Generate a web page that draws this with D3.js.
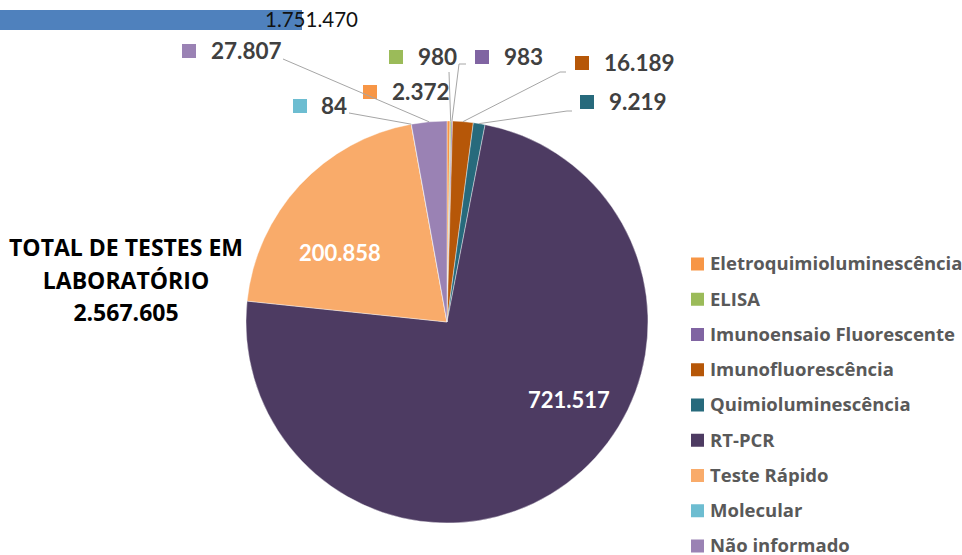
<!DOCTYPE html>
<html>
<head>
<meta charset="utf-8">
<script src="https://cdn.jsdelivr.net/npm/d3@7"></script>
<style>
  html, body { margin: 0; padding: 0; background: #fff; }
  svg { display: block; }
</style>
</head>
<body>
<svg id="chart" width="962" height="555"></svg>
<script>
// ---------------- DATA ----------------
const categories = [
  "Eletroquimioluminescência",
  "ELISA",
  "Imunoensaio Fluorescente",
  "Imunofluorescência",
  "Quimioluminescência",
  "RT-PCR",
  "Teste Rápido",
  "Molecular",
  "Não informado"
];
const values = [2372, 980, 983, 16189, 9219, 721517, 200858, 84, 27807];
const sliceColors = ["#F79646", "#9BBB59", "#8064A2", "#B65708", "#276A7C", "#4D3B62", "#F9AB6A", "#6DBDD1", "#9A82B4"];

const barCategories = ["Total"];
const barValues = [1751470];

const totalTitle = ["TOTAL DE TESTES EM", "LABORATÓRIO"];
const totalValue = [2567605];

// ---------------- LAYOUT ----------------
const W = 962, H = 555;
const cx = 447, cy = 322, R = 201;

const ptBR = d3.formatLocale({ decimal: ",", thousands: ".", grouping: [3], currency: ["R$", ""] });
const fmt = ptBR.format(",d");

const svg = d3.select("#chart");
const FONT = "Lato, 'Open Sans', sans-serif";
const FONT2 = "'Open Sans', Lato, sans-serif";

// Bar (top-left)
const xBar = d3.scaleLinear().domain([0, barValues[0]]).range([0, 302]);
const yBar = d3.scaleBand().domain(barCategories).range([10, 30]).padding(0);
svg.selectAll("rect.bar").data(barValues).join("rect")
  .attr("class", "bar")
  .attr("x", xBar(0))
  .attr("y", (d, i) => yBar(barCategories[i]))
  .attr("width", d => xBar(d) - xBar(0))
  .attr("height", yBar.bandwidth())
  .attr("fill", "#4F81BD");
svg.selectAll("text.barlabel").data(barValues).join("text")
  .attr("class", "barlabel")
  .attr("x", d => xBar(d) - 37)
  .attr("y", (d, i) => yBar(barCategories[i]) + yBar.bandwidth() / 2)
  .attr("dy", "0.35em")
  .attr("font-family", FONT)
  .attr("font-size", 20.5)
  .attr("fill", "#111")
  .text(d => fmt(d));

// Pie
const pie = d3.pie().sort(null).value(d => d).startAngle(0).endAngle(2 * Math.PI);
const arcs = pie(values);
const arc = d3.arc().innerRadius(0).outerRadius(R);

const g = svg.append("g").attr("transform", `translate(${cx},${cy})`);
g.selectAll("path").data(arcs).join("path")
  .attr("d", arc)
  .attr("fill", (d, i) => sliceColors[i])
  .attr("stroke", "#fff")
  .attr("stroke-width", 0.4);

// Inside labels (RT-PCR, Teste Rápido)
const insideLabelPos = { "RT-PCR": [569, 400], "Teste Rápido": [340, 253] };
categories.forEach((c, i) => {
  if (!insideLabelPos[c]) return;
  svg.append("text")
    .attr("x", insideLabelPos[c][0]).attr("y", insideLabelPos[c][1])
    .attr("text-anchor", "middle").attr("dy", "0.35em")
    .attr("font-family", FONT).attr("font-weight", "bold").attr("font-size", 22)
    .attr("fill", "#fff")
    .text(fmt(values[i]));
});

// Outside labels with markers and leader lines
const outsideLabelPos = {
  "Eletroquimioluminescência": { mx: 363, my: 85, tx: 392, ty: 92, line: null },
  "ELISA": { mx: 389, my: 50, tx: 418, ty: 57, line: [[449, 72]] },
  "Imunoensaio Fluorescente": { mx: 475, my: 50, tx: 504, ty: 57, line: [[466, 64], [459, 64]] },
  "Imunofluorescência": { mx: 575, my: 56, tx: 604, ty: 63, line: [[566, 72], [560, 72]] },
  "Quimioluminescência": { mx: 580, my: 95, tx: 609, ty: 102, line: [[572, 111], [567, 111]] },
  "Molecular": { mx: 293, my: 99, tx: 321, ty: 106, line: [[349, 113]] },
  "Não informado": { mx: 182, my: 44, tx: 211, ty: 51, line: [[283, 59]] }
};
categories.forEach((c, i) => {
  const p = outsideLabelPos[c];
  if (!p) return;
  const a = arcs[i];
  const mid = (a.startAngle + a.endAngle) / 2;
  const ex = cx + R * Math.sin(mid), ey = cy - R * Math.cos(mid);
  if (p.line) {
    const pts = p.line.concat([[ex, ey]]);
    svg.append("path")
      .attr("d", d3.line()(pts))
      .attr("fill", "none").attr("stroke", "#A6A6A6").attr("stroke-width", 1);
  }
  svg.append("rect")
    .attr("x", p.mx).attr("y", p.my).attr("width", 14).attr("height", 14)
    .attr("fill", sliceColors[i]);
  svg.append("text")
    .attr("x", p.tx).attr("y", p.ty).attr("dy", "0.35em")
    .attr("font-family", FONT).attr("font-weight", "bold").attr("font-size", 22.5)
    .attr("fill", "#404040")
    .text(fmt(values[i]));
});

// Total text
const tt = svg.append("text")
  .attr("text-anchor", "middle")
  .attr("font-family", FONT2).attr("font-weight", "bold").attr("font-size", 23)
  .attr("fill", "#000");
totalTitle.concat([fmt(totalValue[0])]).forEach((line, k) => {
  tt.append("tspan").attr("x", 126).attr("y", 248 + k * 32.5).attr("dy", "0.35em").text(line);
});

// Legend
const yLeg = d3.scalePoint().domain(categories).range([264, 546]);
const leg = svg.append("g");
leg.selectAll("rect").data(categories).join("rect")
  .attr("x", 691).attr("y", d => yLeg(d) - 6.5)
  .attr("width", 13).attr("height", 13)
  .attr("fill", (d, i) => sliceColors[i]);
leg.selectAll("text").data(categories).join("text")
  .attr("x", 710).attr("y", d => yLeg(d)).attr("dy", "0.35em")
  .attr("font-family", FONT2).attr("font-weight", "bold").attr("font-size", 18.5)
  .attr("fill", "#595959")
  .text(d => d);
</script>
</body>
</html>
